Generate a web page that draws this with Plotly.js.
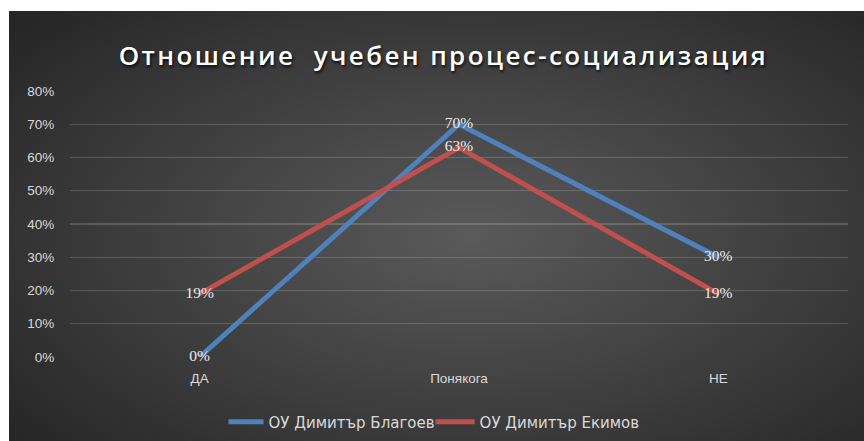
<!DOCTYPE html>
<html>
<head>
<meta charset="utf-8">
<script src="https://cdn.plot.ly/plotly-3.0.1.min.js"></script>
<style>
html,body{margin:0;padding:0;background:#ffffff;width:864px;height:441px;overflow:hidden;}
#chart{position:absolute;left:9px;top:11px;width:855px;height:430px;
background:radial-gradient(ellipse 70% 75% at 54% 52%, #5a5a5a 0%, #3e3e3e 55%, #262626 100%);}
#chart .gtitle{letter-spacing:2.4px;}
#chart .legendlines path{transform-origin:35px 0; transform:scaleX(1.3);}
</style>
</head>
<body>
<div id="chart"></div>
<script>
const categories = ["ДА", "Понякога", "НЕ"];
const seriesNames = ["ОУ Димитър Благоев", "ОУ Димитър Екимов"];
const blagoev = [0.00, 0.70, 0.30];
const ekimov = [0.19, 0.63, 0.19];
const yTickVals = [0, 0.1, 0.2, 0.3, 0.4, 0.5, 0.6, 0.7, 0.8];
const yTickText = ["0%", "10%", "20%", "30%", "40%", "50%", "60%", "70%", "80%"];

function labels(arr){ return arr.map(v => Math.round(v*100) + "%"); }

const labelFont = {family: "Liberation Serif, serif", size: 15.5, color: "#ececec"};

const traces = [
  {
    x: categories, y: blagoev, name: seriesNames[0], type: "scatter", mode: "lines+text",
    line: {color: "#4f81bd", width: 5},
    text: labels(blagoev), textposition: "middle center", textfont: labelFont,
    hoverinfo: "skip", cliponaxis: false
  },
  {
    x: categories, y: ekimov, name: seriesNames[1], type: "scatter", mode: "lines+text",
    line: {color: "#c0504d", width: 5},
    text: labels(ekimov), textposition: "middle center", textfont: labelFont,
    hoverinfo: "skip", cliponaxis: false
  }
];

const layout = {
  width: 855, height: 430,
  paper_bgcolor: "rgba(0,0,0,0)", plot_bgcolor: "rgba(0,0,0,0)",
  margin: {l: 61, r: 16, t: 80, b: 84, autoexpand: false},
  showlegend: true,
  title: {
    text: "Отношение  учебен процес-социализация",
    x: 0.508, xanchor: "center", xref: "container",
    y: 0.895, yanchor: "middle", yref: "container",
    font: {family: "Open Sans, sans-serif", size: 26, color: "#ffffff", weight: 600,
           shadow: "1px 2px 3px rgba(0,0,0,0.8)"}
  },
  xaxis: {
    type: "category", range: [-0.5, 2.5],
    showgrid: false, zeroline: false, showline: false,
    ticks: "outside", ticklen: 9, tickcolor: "rgba(0,0,0,0)",
    tickfont: {family: "Liberation Sans, Arial, sans-serif", size: 13.5, color: "#d9d9d9"}
  },
  yaxis: {
    range: [0, 0.8], tickvals: yTickVals, ticktext: yTickText,
    showgrid: true, gridcolor: "rgba(255,255,255,0.17)", gridwidth: 1.3,
    zeroline: false, showline: false, ticks: "outside", ticklen: 12, tickcolor: "rgba(0,0,0,0)",
    tickfont: {family: "Liberation Sans, Arial, sans-serif", size: 13.5, color: "#d9d9d9"}
  },
  legend: {
    orientation: "h", x: 0.5, xanchor: "center", xref: "container",
    y: 0.044, yanchor: "middle", yref: "container",
    font: {family: "DejaVu Sans, sans-serif", size: 15, color: "#d9d9d9"},
    itemwidth: 30, tracegroupgap: 0, bgcolor: "rgba(0,0,0,0)"
  }
};

Plotly.newPlot("chart", traces, layout, {displayModeBar: false, staticPlot: true});
</script>
</body>
</html>
